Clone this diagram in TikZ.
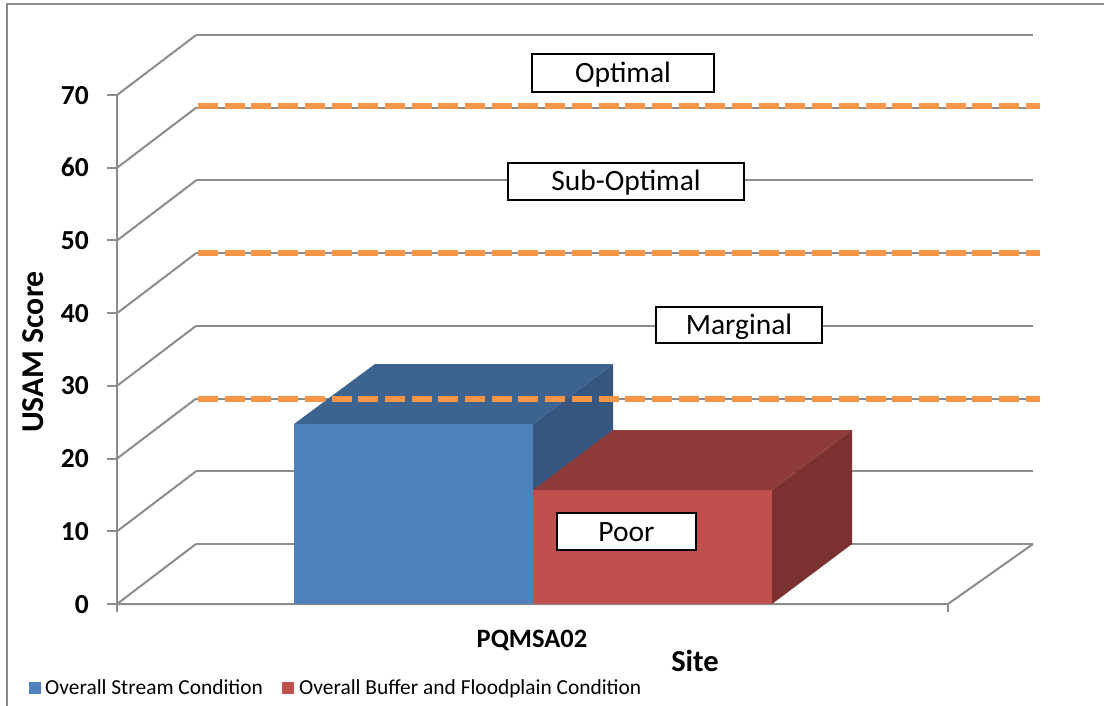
\documentclass[tikz,border=0pt]{standalone}
\usepackage{fontspec}
\setmainfont{Carlito}
\definecolor{gridgray}{HTML}{8C8C8C}
\definecolor{frameg}{HTML}{8A8A8A}
\definecolor{orng}{HTML}{F79646}
\definecolor{bfront}{HTML}{4F81BD}
\definecolor{btop}{HTML}{3D6491}
\definecolor{bside}{HTML}{34567F}
\definecolor{rfront}{HTML}{C0504D}
\definecolor{rtop}{HTML}{8F3B3A}
\definecolor{rside}{HTML}{7B3130}
\begin{document}
\begin{tikzpicture}[x=1pt,y=-1pt,
  gridln/.style={draw=gridgray,line width=2pt},
  dashln/.style={draw=orng,line width=6pt,dash pattern=on 20pt off 6.7pt},
  lbox/.style={draw=black,line width=1.5pt,fill=white,inner sep=0pt,font=\fontsize{29.5}{31}\selectfont,text height=19pt,text depth=0pt},
  ylab/.style={anchor=base east,font=\fontsize{27.5}{29}\selectfont\bfseries},
  legtext/.style={anchor=base west,font=\fontsize{21.4}{22}\selectfont,inner sep=0pt}]
\useasboundingbox (0,0) rectangle (1104,706);
\fill[white] (0,0) rectangle (1104,706);
% outer frame
\draw[frameg,line width=1.5pt] (7,706) -- (7,4) -- (1104,4);
% back wall gridlines
\foreach \v in {0,10,...,70}{
  \pgfmathsetmacro{\yb}{544-7.27*\v}
  \pgfmathsetmacro{\yf}{604-7.27*\v}
  \draw[gridln] (196,\yb) -- (1033,\yb);
  \draw[gridln] (117,\yf) -- (196,\yb);
  \draw[gridln] (107,\yf) -- (117,\yf);
  \node[ylab,inner sep=0pt] (y\v) at (89,\yf+9) {\v};
}
% axis and floor
\draw[gridln] (117,95) -- (117,612);
\draw[gridln] (117,604) -- (948,604) -- (1033,544);
\draw[gridln] (948,604) -- (948,612);
% blue bar
\fill[bfront] (294,424) rectangle (533,604);
\fill[btop] (294,424) -- (375,364) -- (613,364) -- (533,424) -- cycle;
\fill[bside] (533,424) -- (613,364) -- (613,544) -- (533,604) -- cycle;
% red bar
\fill[rfront] (533,490) rectangle (772,604);
\fill[rtop] (533,490) -- (613,430) -- (852,430) -- (772,490) -- cycle;
\fill[rside] (772,490) -- (852,430) -- (852,544) -- (772,604) -- cycle;
% dashed thresholds
\foreach \y in {106,253,399}{
  \draw[dashln] (198,\y) -- (1040,\y);
}
% category labels
\node[lbox,minimum width=182pt,minimum height=38pt] (optimal) at (623,73) {Optimal};
\node[lbox,minimum width=236pt,minimum height=37pt] (subopt) at (626,181.5) {Sub-Optimal};
\node[lbox,minimum width=166pt,minimum height=36pt] (marginal) at (739,325) {Marginal};
\node[lbox,minimum width=139pt,minimum height=37pt] (poor) at (626.5,531.5) {Poor};
% axis titles
\node[rotate=90,font=\fontsize{31.8}{33}\selectfont\bfseries] (ytitle) at (33,352) {USAM Score};
\node[anchor=base,font=\fontsize{26.5}{28}\selectfont\bfseries] (cat) at (532,647) {PQMSA02};
\node[anchor=base,font=\fontsize{30.5}{32}\selectfont\bfseries] (xtitle) at (695,671) {Site};
% legend
\fill[bfront] (29,682) rectangle (41,694);
\node[legtext] (leg1) at (45,694) {Overall Stream Condition};
\fill[rfront] (282,682) rectangle (294,694);
\node[legtext] (leg2) at (299,694) {Overall Buffer and Floodplain Condition};
\end{tikzpicture}
\end{document}
